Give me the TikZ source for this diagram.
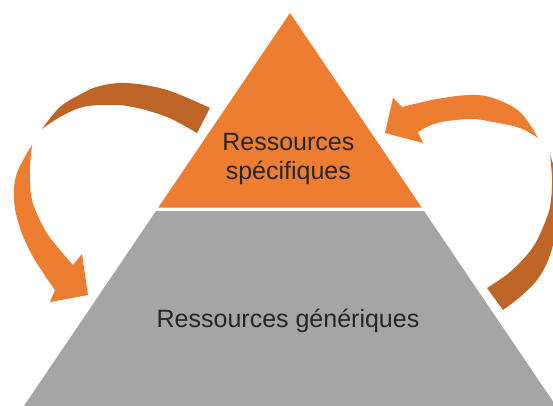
\documentclass[tikz,border=0pt]{standalone}
\usepackage{fontspec}
\setmainfont{Liberation Sans}
\definecolor{acc}{HTML}{ED7D31}
\definecolor{accdark}{HTML}{BE6427}
\definecolor{pgrey}{HTML}{A5A5A5}
\definecolor{txt}{HTML}{262626}
\begin{document}
\begin{tikzpicture}[x=1pt,y=-1pt,
  lbl/.style={text=txt, font=\fontsize{25}{28.8}\selectfont, inner sep=0pt},
  sm/.style={smooth, tension=0.6}]
\useasboundingbox (0,0) rectangle (553,405);
\clip (0,0) rectangle (553,405);
\fill[white] (0,0) rectangle (553,405);
% pyramid
\coordinate (apex) at (290,13);
\coordinate (tl) at (158.3,207.5);
\coordinate (tr) at (421.7,207.5);
\coordinate (gl) at (156,211);
\coordinate (gr) at (424,211);
\coordinate (bl) at (21.2,410);
\coordinate (br) at (558.8,410);
\fill[acc] (apex) -- (tl) -- (tr) -- cycle;
\fill[pgrey] (gl) -- (gr) -- (br) -- (bl) -- cycle;
% left arrow: dark back part
\fill[accdark] (210,108) -- plot[sm] coordinates {(210,108) (167,90) (127,83) (100,86) (83,93) (60,107) (42,129)}
  -- plot[sm] coordinates {(42,129) (60,117) (83,107) (110,105) (133,107) (167,117) (197,133)} -- cycle;
% left arrow: front part with head
\fill[acc] (32,145) -- plot[sm] coordinates {(32,145) (17,173) (14,200) (20,228) (32,255) (46,277) (55,290)}
  -- (50,302) -- (88,295) -- (82,254)
  -- plot[sm] coordinates {(73,265) (60,250) (45,230) (32,200) (30,170) (32,145)} -- cycle;
% right arrow: front part with head
\fill[acc] (385,133) -- (393,98) -- (402,107)
  -- plot[sm] coordinates {(402,107) (437,99) (470,95) (493,98) (520,112) (538,138)}
  -- plot[sm] coordinates {(538,138) (520,128) (493,122) (470,119) (437,123) (418,132)}
  -- (423,143) -- cycle;
% right arrow: dark back part
\fill[accdark] (503,310) -- plot[sm] coordinates {(503,310) (520,297) (537,280) (549,258) (556,230) (558,200) (555,172) (550,155)}
  -- plot[sm] coordinates {(550,155) (552,178) (551,200) (547,217) (533,247) (510,272) (487,288)} -- cycle;
% labels
\node[lbl, anchor=base, align=center] (spec) at (288.3,179.5) {Ressources\\spécifiques};
\node[lbl, anchor=base] (gen) at (288,327.3) {Ressources génériques};
\end{tikzpicture}
\end{document}
